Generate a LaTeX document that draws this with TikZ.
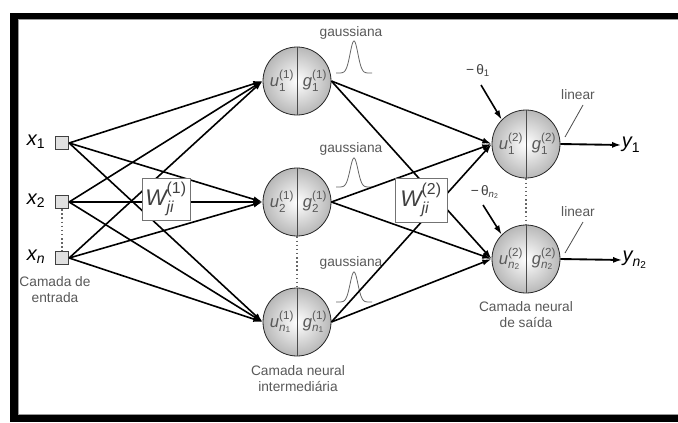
\documentclass[tikz,border=0pt]{standalone}
\usepackage{fontspec}
\setmainfont{Liberation Sans}
\usepackage{amsmath}
\usetikzlibrary{arrows.meta}
\begin{document}
\begin{tikzpicture}[x=0.75pt,y=-0.75pt,
  neuron/.style={circle, draw=black!85, line width=0.6pt, minimum size=51pt, inner sep=0pt, shading=radial, inner color=white, outer color=black!28},
  insq/.style={rectangle, draw=black!75, line width=1.2pt, fill=black!12, minimum size=9.5pt, inner sep=0pt},
  wbox/.style={rectangle, draw=black!55, line width=0.5pt, fill=white, inner sep=0pt},
  conn/.style={line width=1.2pt, black},
  arr/.style={conn, -{Latex[length=7pt,width=4.5pt]}},
  lbl/.style={font=\fontsize{10.3}{12}\selectfont, text=black!65, inner sep=0pt},
  ntext/.style={font=\fontsize{12.5}{14}\selectfont, text=black!65, inner sep=0pt},
  var/.style={font=\fontsize{15}{17}\selectfont, inner sep=0pt},
  gauss/.style={black!60, line width=0.6pt},
  dots/.style={dotted, line width=1.1pt, black!60},
  divider/.style={black!70, line width=0.6pt},
  thinline/.style={black!70, line width=0.6pt}
]
\useasboundingbox (0,0) rectangle (678,422);
% frame
\fill[white] (0,0) rectangle (678,422);
\fill[black] (10,13) rectangle (678,422);
\fill[white] (18,19) rectangle (678,415);
\draw[black!40, line width=0.8pt] (678,19.5) -- (18.5,19.5) -- (18.5,414.5) -- (678,414.5);

% inputs
\node[insq] (x1) at (62,143) {};
\node[insq] (x2) at (62,202) {};
\node[insq] (xn) at (62,258) {};
\node[var] (lx1) at (36,142) {$\textit{x}_{\text{1}}$};
\node[var] (lx2) at (36,201) {$\textit{x}_{\text{2}}$};
\node[var] (lxn) at (36,257) {$\textit{x}_{\textit{n}}$};
\draw[dots] (x2.south) -- (xn.north);
\node[lbl, align=center] (cin) at (55,290) {Camada de\\entrada};

% hidden neurons
\node[neuron] (h1) at (297,81) {};
\node[neuron] (h2) at (297,202) {};
\node[neuron] (h3) at (297,322) {};
\foreach \h in {h1,h2,h3} {\draw[divider] (\h.north) -- (\h.south);}
\node[ntext] (u1) at (282,81) {$\textit{u}^{\text{(1)}}_{\text{1}}$};
\node[ntext] (g1) at (315,81) {$\textit{g}^{\text{(1)}}_{\text{1}}$};
\node[ntext] (u2) at (282,202) {$\textit{u}^{\text{(1)}}_{\text{2}}$};
\node[ntext] (g2) at (315,202) {$\textit{g}^{\text{(1)}}_{\text{2}}$};
\node[ntext] (u3) at (282,322) {$\textit{u}^{\text{(1)}}_{\textit{n}_{\text{1}}}$};
\node[ntext] (g3) at (315,322) {$\textit{g}^{\text{(1)}}_{\textit{n}_{\text{1}}}$};
\draw[dots] (h2.south) -- (h3.north);
\node[lbl, align=center] (chid) at (298,379) {Camada neural\\intermediária};

% output neurons
\node[neuron] (o1) at (526,144) {};
\node[neuron] (o2) at (526,259) {};
\foreach \o in {o1,o2} {\draw[divider] (\o.north) -- (\o.south);}
\node[ntext] (uo1) at (511,144) {$\textit{u}^{\text{(2)}}_{\text{1}}$};
\node[ntext] (go1) at (544,144) {$\textit{g}^{\text{(2)}}_{\text{1}}$};
\node[ntext] (uo2) at (511,259) {$\textit{u}^{\text{(2)}}_{\textit{n}_{\text{2}}}$};
\node[ntext] (go2) at (544,259) {$\textit{g}^{\text{(2)}}_{\textit{n}_{\text{2}}}$};
\draw[dots] (o1.south) -- (o2.north);
\node[lbl, align=center] (cout) at (526,315) {Camada neural\\de saída};

% gaussians
\foreach \b/\p in {73/41, 187/158, 302/272} {
  \draw[gauss] plot[domain=-18:18, samples=50] ({354+\x}, {\b-(\b-\p)*exp(-(\x/5.5)^2)});
}
\node[lbl] (ga1) at (351,33) {gaussiana};
\node[lbl] (ga2) at (351,149) {gaussiana};
\node[lbl] (ga3) at (351,263) {gaussiana};

% input -> hidden
\foreach \i in {x1,x2,xn} {
  \foreach \h in {h1,h2,h3} {
    \draw[arr] (\i.east) -- (\h.west);
  }
}
% hidden -> output
\foreach \h in {h1,h2,h3} {
  \foreach \o in {o1,o2} {
    \draw[arr] (\h.east) -- (\o.west);
  }
}
% weight boxes
\node[wbox, minimum width=36pt, minimum height=31.5pt, font=\fontsize{17}{19}\selectfont, text=black!75] (w1) at (166,199) {$\textit{W}^{\text{(1)}}_{\textit{ji}}$};
\node[wbox, minimum width=39pt, minimum height=33pt, font=\fontsize{17}{19}\selectfont, text=black!75] (w2) at (421,200) {$\textit{W}^{\text{(2)}}_{\textit{ji}}$};

% biases
\node[lbl, text=black!75] (t1) at (478,71) {$\text{−\,θ}_{\text{1}}$};
\node[lbl, text=black!75] (t2) at (485,192) {$\text{−\,θ}_{\textit{n}_{\text{2}}}$};
\coordinate (b1) at (481,85);
\coordinate (b2) at (483,205);
\draw[arr] (b1) -- (o1.135);
\draw[arr] (b2) -- (o2.135);

% linear
\node[lbl] (lin1) at (578,95) {linear};
\node[lbl] (lin2) at (578,212) {linear};
\coordinate (l1a) at (583,105);
\coordinate (l1b) at (565,137);
\coordinate (l2a) at (583,222);
\coordinate (l2b) at (565,253);
\draw[thinline] (l1a) -- (l1b);
\draw[thinline] (l2a) -- (l2b);

% outputs
\node[var] (y1) at (631,145) {$\textit{y}_{\text{1}}$};
\node[var] (yn) at (635,260) {$\textit{y}_{\textit{n}_{\text{2}}}$};
\draw[arr, line width=1.4pt] (o1.east) -- (y1.west);
\draw[arr, line width=1.4pt] (o2.east) -- (yn.west);
\end{tikzpicture}
\end{document}
